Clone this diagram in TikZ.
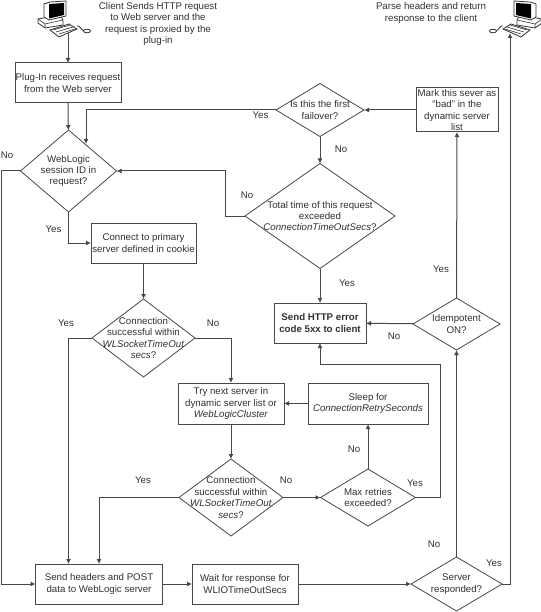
\documentclass[tikz,border=0pt]{standalone}
\usepackage{fontspec}
\setmainfont{Liberation Sans}
\usetikzlibrary{arrows.meta,shapes.geometric}
\definecolor{trait}{HTML}{484848}
\definecolor{encre}{HTML}{303030}
\tikzset{
Fleche/.style={
 draw=trait, 
 line width=1pt, 
 -{Latex[length=5pt,width=5pt]}
 },
Boite/.style={
 draw=trait, 
 line width=1pt, 
 inner sep=0pt, 
 outer sep=0pt, 
 text=encre, 
 align=center, 
 font=\fontsize{9.7}{11.4}\selectfont
 },
Losange/.style={
 diamond, 
 draw=trait, 
 line width=0.8pt, 
 aspect=1, 
 inner sep=0pt, 
 outer sep=0pt
 },
Texte/.style={
 inner sep=0pt, 
 text=encre, 
 align=center, 
 font=\fontsize{9.7}{11.4}\selectfont
 },
Etiquette/.style={
 inner sep=0pt, 
 text=encre, 
 font=\fontsize{9.7}{11.4}\selectfont
 },
Ecran/.pic={
 \draw[black!80,fill=white,line width=0.8pt] (-30,19) -- (-8,15) -- (-5,20) -- (-5,25) -- (-23,28) -- (-30,23) -- cycle;
 \draw[black!80,line width=0.6pt] (-30,19) -- (-23,24) -- (-5,20) (-23,24) -- (-23,28);
 \draw[black!80,fill=white,line width=0.8pt] (-24,4) -- (-18,2) -- (-2,1) -- (-2,16) -- (-19,20) -- (-24,17) -- cycle;
 \fill[black] (-19,4) -- (-4,3) -- (-4,15) -- (-19,18.5) -- cycle;
 \draw[black!80,fill=white,line width=0.8pt] (-18,30) -- (1,24) -- (9,29) -- (-9,37) -- cycle;
 \draw[black!80,line width=0.6pt] (-15,30) -- (2,25) (-12,32) -- (5,27) (-9,34) -- (7,29);
 \draw[black!80,line width=0.8pt] (9,26) .. controls (12,25) and (13,30) .. (16,31);
 \draw[black!80,fill=white,line width=0.8pt] (19,31) ellipse (3.5pt and 1.8pt);
 }
}
\begin{document}
\begin{tikzpicture}[x=1pt,y=-1pt]
\useasboundingbox (0,0) rectangle (540,612);
\pic at (68,0) {Ecran};
\pic[xscale=-1] at (512,0) {Ecran};
\coordinate (clientpc) at (68,33);
\coordinate (serveurpc) at (510,33);
\node[Texte] (clienttxt) at (158,24) {Client Sends HTTP request\\to Web server and the\\request is proxied by the\\plug-in};
\node[Texte] (parsetxt) at (431,13) {Parse headers and return\\response to the client};
% boites
\node[Boite,minimum width=106pt,minimum height=40pt] (plugin) at (68,83) {Plug-In receives request\\from the Web server};
\node[Boite,minimum width=105pt,minimum height=40pt] (connect) at (143.5,243) {Connect to primary\\server defined in cookie};
\node[Boite,minimum width=106pt,minimum height=41pt] (trynext) at (231,403.5) {Try next server in\\dynamic server list or\\\textit{WebLogicCluster}};
\node[Boite,minimum width=120pt,minimum height=41pt] (sleep) at (368,403.5) {Sleep for\\\textit{ConnectionRetrySeconds}};
\node[Boite,minimum width=92pt,minimum height=40pt] (httperror) at (320,323) {\textbf{Send HTTP error}\\\textbf{code 5xx to client}};
\node[Boite,minimum width=82pt,minimum height=44pt] (mark) at (457,110) {Mark this sever as\\“bad” in the\\dynamic server\\list};
\node[Boite,minimum width=127pt,minimum height=40pt] (send) at (99,584) {Send headers and POST\\data to WebLogic server};
\node[Boite,minimum width=106pt,minimum height=40pt] (wait) at (245,584) {Wait for response for\\WLIOTimeOutSecs};
% losanges
\node[Losange,minimum width=96pt,minimum height=82pt] (session) at (68.5,171) {};
\node[Texte] (sessiontxt) at (session) {WebLogic\\session ID in\\request?};
\node[Losange,minimum width=103pt,minimum height=78pt] (conna) at (143.5,338) {};
\node[Texte] (connatxt) at (conna) {Connection\\successful within\\\textit{WLSocketTimeOut}\\\textit{secs}?};
\node[Losange,minimum width=104pt,minimum height=77pt] (connb) at (231,497.5) {};
\node[Texte] (connbtxt) at (connb) {Connection\\successful within\\\textit{WLSocketTimeOut}\\\textit{secs}?};
\node[Losange,minimum width=95pt,minimum height=57pt] (retries) at (368,497.5) {};
\node[Texte] (retriestxt) at (retries) {Max retries\\exceeded?};
\node[Losange,minimum width=88pt,minimum height=53pt] (failover) at (320,110) {};
\node[Texte] (failovertxt) at (failover) {Is this the first\\failover?};
\node[Losange,minimum width=150pt,minimum height=105pt] (total) at (320,216) {};
\node[Texte] (totaltxt) at (total) {Total time of this request\\exceeded\\\textit{ConnectionTimeOutSecs}?};
\node[Losange,minimum width=87pt,minimum height=52pt] (idem) at (456.5,324) {};
\node[Texte] (idemtxt) at (idem) {Idempotent\\ON?};
\node[Losange,minimum width=91pt,minimum height=54pt] (responded) at (456.5,584) {};
\node[Texte] (respondedtxt) at (responded) {Server\\responded?};
% coudes
\coordinate (coudeno) at (1,171);
\coordinate (coudetotal) at (225,216);
\coordinate (sessionhaut) at (86,144);
\coordinate (coudemax) at (440.5,364);
\coordinate (coudeyes) at (510,584);
\coordinate (sendhaut) at (68.5,564);
% fleches
\draw[Fleche] (clientpc) -- (plugin);
\draw[Fleche] (plugin) -- (session);
\draw[Fleche] (session.south) |- (connect.west);
\draw[Fleche] (session.west) -- (coudeno) |- (send.west);
\draw[Fleche] (failover.west) -| (sessionhaut);
\draw[Fleche] (total.west) -- (coudetotal) |- (session.east);
\draw[Fleche] (failover) -- (total);
\draw[Fleche] (total) -- (httperror);
\draw[Fleche] (connect) -- (conna);
\draw[Fleche] (conna.west) -| (sendhaut);
\draw[Fleche] (conna.east) -| (trynext.north);
\draw[Fleche] (trynext) -- (connb);
\draw[Fleche] (connb.west) -| (send.north);
\draw[Fleche] (connb) -- (retries);
\draw[Fleche] (retries) -- (sleep);
\draw[Fleche] (retries.east) -| (coudemax) -| (httperror.south);
\draw[Fleche] (sleep) -- (trynext);
\draw[Fleche] (idem) -- (httperror);
\draw[Fleche] (idem) -- (mark);
\draw[Fleche] (mark) -- (failover);
\draw[Fleche] (send) -- (wait);
\draw[Fleche] (wait) -- (responded);
\draw[Fleche] (responded) -- (idem);
\draw[Fleche] (responded.east) -- (coudeyes) -- (serveurpc);
% etiquettes
\node[Etiquette] (l1) at (260.5,115) {Yes};
\node[Etiquette] (l2) at (7,155) {No};
\node[Etiquette] (l3) at (53.5,229) {Yes};
\node[Etiquette] (l4) at (247,195) {No};
\node[Etiquette] (l5) at (341,149) {No};
\node[Etiquette] (l6) at (347,283) {Yes};
\node[Etiquette] (l7) at (441,269) {Yes};
\node[Etiquette] (l8) at (66,323) {Yes};
\node[Etiquette] (l9) at (213,323) {No};
\node[Etiquette] (l10) at (143,480) {Yes};
\node[Etiquette] (l11) at (394,336) {No};
\node[Etiquette] (l12) at (354,449) {No};
\node[Etiquette] (l13) at (286,480) {No};
\node[Etiquette] (l14) at (415,483) {Yes};
\node[Etiquette] (l15) at (434,544) {No};
\node[Etiquette] (l16) at (494,563) {Yes};
\end{tikzpicture}
\end{document}
